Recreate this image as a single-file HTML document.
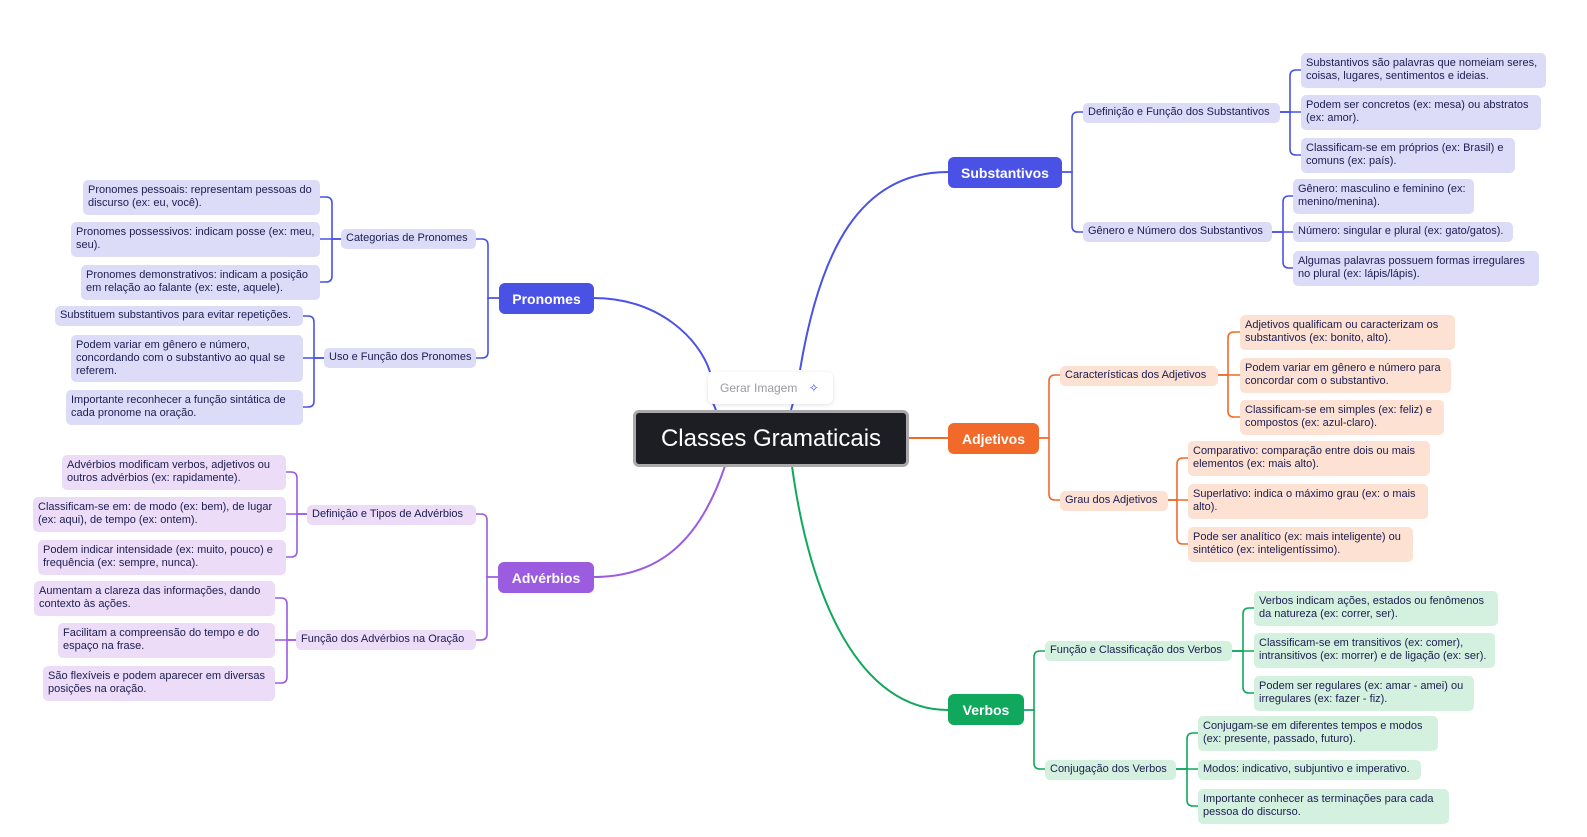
<!DOCTYPE html>
<html><head><meta charset="utf-8">
<style>
body{margin:0;width:1587px;height:837px;background:#fff;position:relative;overflow:hidden;font-family:"Liberation Sans",sans-serif;}
.b{position:absolute;box-sizing:border-box;border-radius:5px;font-size:11px;line-height:13px;color:#1c1c50;padding:4px 5px;white-space:nowrap;}
.s{padding:3px 5px;line-height:13px;}
.bl{background:#dcdcf9}.or{background:#fde1d2}.gr{background:#d3f1de}.pu{background:#ecdcf7}
.m{position:absolute;box-sizing:border-box;border-radius:6px;color:#fff;font-weight:bold;font-size:14px;display:flex;align-items:center;justify-content:center;}
svg{position:absolute;left:0;top:0}
</style></head><body>
<svg id="sv" width="1587" height="837" fill="none" stroke-width="2">
<path d="M800,370 C820,250 860,172 948,172" stroke="#4a52e6"/>
<path d="M593,298 C660,298 700,340 710,372" stroke="#4a52e6"/>
<path d="M793,403 L791,410" stroke="#4a52e6"/>
<path d="M713,403 L716,410" stroke="#4a52e6"/>
<path d="M908,438 L948,438" stroke="#f26a2a"/>
<path d="M725,466 C700,540 660,577 593,577" stroke="#9b5ce0"/>
<path d="M792,466 C810,600 860,710 948,710" stroke="#10a85c"/>
</svg>

<div class="m" style="left:633px;top:410px;width:276px;height:57px;background:#1d1e23;border:3px solid #a9a9ab;font-size:24px;font-weight:normal;">Classes Gramaticais</div>
<div style="position:absolute;left:708px;top:372px;width:125px;height:32px;background:#fff;border-radius:6px;box-shadow:0 1px 4px rgba(0,0,0,.12);font-size:12px;color:#9a9aa2;line-height:32px;padding-left:12px;box-sizing:border-box;">Gerar Imagem <span style="color:#4a52e6;margin-left:8px">✧</span></div>

<div class="m" style="left:948px;top:157px;width:114px;height:31px;background:#4a52e6">Substantivos</div>
<div class="m" style="left:499px;top:283px;width:95px;height:31px;background:#4a52e6">Pronomes</div>
<div class="m" style="left:948px;top:423px;width:91px;height:31px;background:#f26a2a">Adjetivos</div>
<div class="m" style="left:498px;top:562px;width:96px;height:31px;background:#9b5ce0">Advérbios</div>
<div class="m" style="left:948px;top:694px;width:76px;height:31px;background:#10a85c">Verbos</div>

<div id="boxes"></div>
<script>
var sv=document.getElementById('sv'),bx=document.getElementById('boxes');
function box(x,y,w,h,cls,t){var d=document.createElement('div');d.className='b '+cls+(h<22?' s':'');d.style.left=x+'px';d.style.top=y+'px';d.style.width=w+'px';d.style.height=h+'px';d.innerHTML=t;bx.appendChild(d);}
function path(d,c){var p=document.createElementNS('http://www.w3.org/2000/svg','path');p.setAttribute('d',d);p.setAttribute('stroke',c);p.setAttribute('stroke-width',c=='x'?2:1.6);sv.appendChild(p);}
// group: parent edge px,py ; bracket x ; children list of [edgeX, cy]
function grp(px,py,bxx,kids,c,w){
 kids.forEach(function(k){var cx=k[0],cy=k[1],r=6;
  var dir=cx>px?1:-1;
  if(Math.abs(cy-py)<r){path('M'+px+','+py+' H'+cx,c);return;}
  var s=cy>py?1:-1;
  path('M'+px+','+py+' H'+bxx+' V'+(cy-s*r)+' Q'+bxx+','+cy+' '+(bxx+dir*r)+','+cy+' H'+cx,c);
 });
}
var B='#4a52e6',O='#f26a2a',G='#10a85c',P='#9b5ce0';
// Substantivos
grp(1062,172,1072,[[1083,112],[1083,232]],B);
box(1083,103,197,20,'bl','Definição e Função dos Substantivos');
box(1083,222,189,20,'bl','Gênero e Número dos Substantivos');
grp(1280,112,1290,[[1301,70],[1301,112],[1301,155]],B);
box(1301,53,245,35,'bl','Substantivos são palavras que nomeiam seres,<br>coisas, lugares, sentimentos e ideias.');
box(1301,95,240,35,'bl','Podem ser concretos (ex: mesa) ou abstratos<br>(ex: amor).');
box(1301,138,214,35,'bl','Classificam-se em próprios (ex: Brasil) e<br>comuns (ex: país).');
grp(1272,232,1283,[[1293,196],[1293,232],[1293,268]],B);
box(1293,179,181,35,'bl','Gênero: masculino e feminino (ex:<br>menino/menina).');
box(1293,222,220,20,'bl','Número: singular e plural (ex: gato/gatos).');
box(1293,251,246,35,'bl','Algumas palavras possuem formas irregulares<br>no plural (ex: lápis/lápis).');
// Adjetivos
grp(1039,438,1049,[[1060,375],[1060,500]],O);
box(1060,366,158,20,'or','Características dos Adjetivos');
box(1060,491,108,20,'or','Grau dos Adjetivos');
grp(1218,375,1228,[[1240,332],[1240,375],[1240,417]],O);
box(1240,315,215,35,'or','Adjetivos qualificam ou caracterizam os<br>substantivos (ex: bonito, alto).');
box(1240,358,211,35,'or','Podem variar em gênero e número para<br>concordar com o substantivo.');
box(1240,400,204,35,'or','Classificam-se em simples (ex: feliz) e<br>compostos (ex: azul-claro).');
grp(1168,500,1177,[[1188,458],[1188,501],[1188,544]],O);
box(1188,441,242,35,'or','Comparativo: comparação entre dois ou mais<br>elementos (ex: mais alto).');
box(1188,484,240,35,'or','Superlativo: indica o máximo grau (ex: o mais<br>alto).');
box(1188,527,225,35,'or','Pode ser analítico (ex: mais inteligente) ou<br>sintético (ex: inteligentíssimo).');
// Verbos
grp(1024,710,1034,[[1045,651],[1045,769]],G);
box(1045,641,187,20,'gr','Função e Classificação dos Verbos');
box(1045,760,131,20,'gr','Conjugação dos Verbos');
grp(1232,651,1243,[[1254,608],[1254,651],[1254,693]],G);
box(1254,591,244,35,'gr','Verbos indicam ações, estados ou fenômenos<br>da natureza (ex: correr, ser).');
box(1254,633,241,35,'gr','Classificam-se em transitivos (ex: comer),<br>intransitivos (ex: morrer) e de ligação (ex: ser).');
box(1254,676,220,35,'gr','Podem ser regulares (ex: amar - amei) ou<br>irregulares (ex: fazer - fiz).');
grp(1176,769,1187,[[1198,733],[1198,769],[1198,806]],G);
box(1198,716,240,35,'gr','Conjugam-se em diferentes tempos e modos<br>(ex: presente, passado, futuro).');
box(1198,760,223,20,'gr','Modos: indicativo, subjuntivo e imperativo.');
box(1198,789,251,35,'gr','Importante conhecer as terminações para cada<br>pessoa do discurso.');
// Pronomes
grp(499,298,488,[[476,239],[476,358]],B);
box(341,229,135,20,'bl','Categorias de Pronomes');
box(324,348,152,20,'bl','Uso e Função dos Pronomes');
grp(341,239,332,[[320,197],[320,239],[320,282]],B);
box(83,180,237,35,'bl','Pronomes pessoais: representam pessoas do<br>discurso (ex: eu, você).');
box(71,222,249,35,'bl','Pronomes possessivos: indicam posse (ex: meu,<br>seu).');
box(81,265,239,35,'bl','Pronomes demonstrativos: indicam a posição<br>em relação ao falante (ex: este, aquele).');
grp(324,358,314,[[303,316],[303,358],[303,407]],B);
box(55,306,248,20,'bl','Substituem substantivos para evitar repetições.');
box(71,335,232,47,'bl','Podem variar em gênero e número,<br>concordando com o substantivo ao qual se<br>referem.');
box(66,390,237,35,'bl','Importante reconhecer a função sintática de<br>cada pronome na oração.');
// Adverbios
grp(498,577,487,[[476,514],[476,640]],P);
box(307,505,169,20,'pu','Definição e Tipos de Advérbios');
box(296,630,180,20,'pu','Função dos Advérbios na Oração');
grp(307,514,297,[[286,472],[286,514],[286,557]],P);
box(62,455,224,35,'pu','Advérbios modificam verbos, adjetivos ou<br>outros advérbios (ex: rapidamente).');
box(33,497,253,35,'pu','Classificam-se em: de modo (ex: bem), de lugar<br>(ex: aqui), de tempo (ex: ontem).');
box(38,540,248,35,'pu','Podem indicar intensidade (ex: muito, pouco) e<br>frequência (ex: sempre, nunca).');
grp(296,640,287,[[275,598],[275,640],[275,683]],P);
box(34,581,241,35,'pu','Aumentam a clareza das informações, dando<br>contexto às ações.');
box(58,623,217,35,'pu','Facilitam a compreensão do tempo e do<br>espaço na frase.');
box(43,666,232,35,'pu','São flexíveis e podem aparecer em diversas<br>posições na oração.');
</script>
</body></html>
